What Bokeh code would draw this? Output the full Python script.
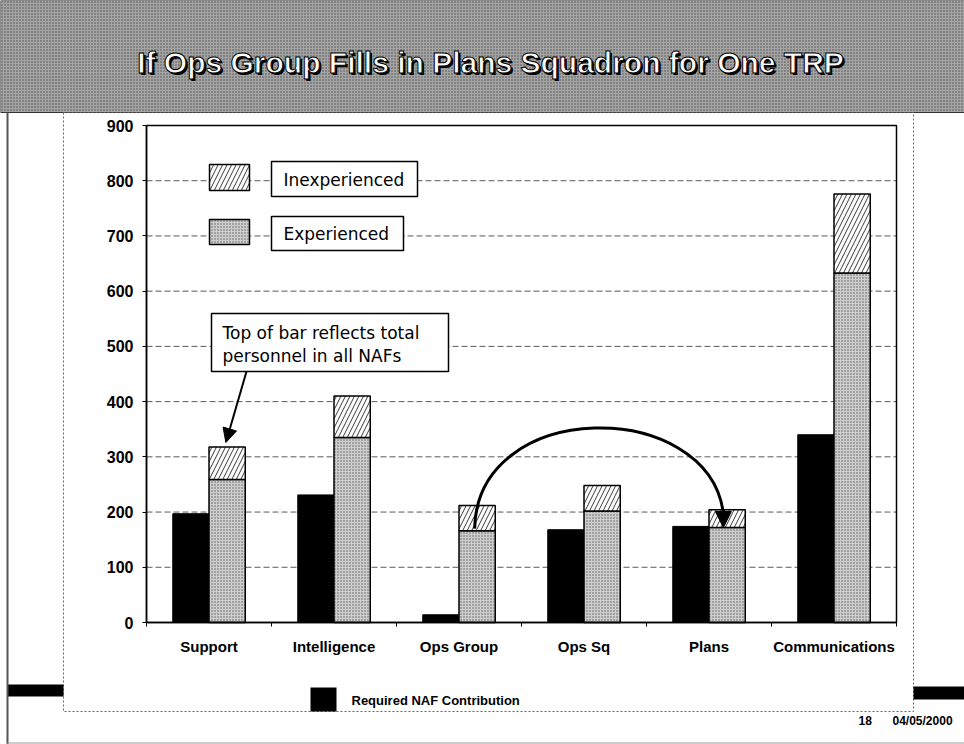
from bokeh.plotting import figure
from bokeh.models import (ColumnDataSource, BoxAnnotation, Label, Arrow, NormalHead,
                          FixedTicker, Range1d)
from bokeh.transform import dodge
from bokeh.embed import file_html
from bokeh.resources import INLINE

# ---------------- data ----------------
categories = ["Support", "Intelligence", "Ops Group", "Ops Sq", "Plans", "Communications"]
required_naf = [197, 231, 14, 168, 174, 340]
experienced = [259, 335, 166, 202, 172, 633]
inexperienced = [59, 75, 46, 46, 32, 143]
y_ticks = [0, 100, 200, 300, 400, 500, 600, 700, 800, 900]
y_max = 900

title_text = "If Ops Group Fills in Plans Squadron for One TRP"
legend_labels = ["Inexperienced", "Experienced"]
required_label = "Required NAF Contribution"
note_lines = ["Top of bar reflects total", "personnel in all NAFs"]
footer_page = "18"
footer_date = "04/05/2000"

# ---------------- layout (page pixels) ----------------
W, H = 964, 744
FL, FT, FR, FB = 146, 125, 896, 622      # chart area on the page
n = len(categories)
ux = (FR - FL) / n                       # px per category
uy = (FB - FT) / y_max                   # px per value unit
BAR_W = 0.29
SHIFT = BAR_W / 2
EXP_FILL, EXP_HATCH = "#cdcdcd", "#5f5f5f"
INEXP_HATCH = "#3a3a3a"

x_lo = -0.5 - FL / ux
x_hi = n - 0.5 + (W - FR) / ux
y_lo = -(H - FB) / uy
y_hi = FB / uy


def sx(rx):
    return rx


def sy(ry):
    return H - ry


def box(l, t, r, b, **kw):
    base = dict(fill_alpha=1, line_alpha=1, line_color=None, fill_color=None)
    base.update(kw)
    return BoxAnnotation(left=sx(l), right=sx(r), top=sy(t), bottom=sy(b),
                         left_units="screen", right_units="screen",
                         top_units="screen", bottom_units="screen", **base)


def label(rx, ry, text, **kw):
    base = dict(x_units="screen", y_units="screen", text_baseline="middle",
                text_font="Liberation Sans", text_color="black")
    base.update(kw)
    return Label(x=sx(rx), y=sy(ry), text=text, **base)


p = figure(x_range=Range1d(x_lo, x_hi), y_range=Range1d(y_lo, y_hi),
           width=W, height=H, output_backend="svg", toolbar_location=None, title=None,
           min_border=0, min_border_left=0, min_border_right=0,
           min_border_top=0, min_border_bottom=0)
p.background_fill_color = "white"
p.border_fill_color = "white"
p.outline_line_color = None
p.xgrid.visible = False
p.ygrid.visible = False

src = ColumnDataSource(dict(pos=list(range(n)), cat=categories, required=required_naf,
                            experienced=experienced, inexperienced=inexperienced))

# grid lines at the tick values
grid_vals = [t for t in y_ticks if 0 < t < y_max]
p.segment(x0=[-0.5] * len(grid_vals), x1=[n - 0.5] * len(grid_vals), y0=grid_vals,
          y1=grid_vals, line_color="#5a5a5a", line_dash="6 3", line_width=1,
          level="underlay")

# bars
p.vbar(x=dodge("pos", -SHIFT), top="required", width=BAR_W, source=src,
       fill_color="black", line_color="black", line_width=1)
p.vbar_stack(["experienced", "inexperienced"], x=dodge("pos", SHIFT),
             width=BAR_W, source=src,
             fill_color=[EXP_FILL, "white"], line_color="black", line_width=1.5,
             hatch_pattern=[".", "/"], hatch_color=[EXP_HATCH, INEXP_HATCH],
             hatch_scale=[3, 9], hatch_weight=[1, 1])

# chart frame (top / right)
p.add_layout(BoxAnnotation(left=-0.5, right=n - 0.5, bottom=0, top=y_max,
                           fill_alpha=0, line_color="black", line_alpha=1, line_width=1.5))

# axes placed at the chart origin
p.yaxis.fixed_location = -0.5
p.yaxis.bounds = (0, y_max)
p.yaxis.ticker = FixedTicker(ticks=y_ticks)
p.yaxis.minor_tick_line_color = None
p.yaxis.major_tick_in = 0
p.yaxis.major_tick_out = 4
p.yaxis.major_label_standoff = 9
p.yaxis.major_label_text_font = "Liberation Sans"
p.yaxis.major_label_text_font_style = "bold"
p.yaxis.major_label_text_font_size = "16px"
p.yaxis.major_label_text_color = "black"
p.yaxis.axis_line_width = 1.5

p.xaxis.fixed_location = 0
p.xaxis.bounds = (-0.5, n - 0.5)
p.xaxis.ticker = FixedTicker(ticks=list(range(n)))
p.xaxis.major_label_overrides = {i: c for i, c in enumerate(categories)}
p.xaxis.major_tick_line_color = None
p.xaxis.minor_tick_line_color = None
p.xaxis.major_label_standoff = 9
p.xaxis.major_label_text_font = "Liberation Sans"
p.xaxis.major_label_text_font_style = "bold"
p.xaxis.major_label_text_font_size = "15px"
p.xaxis.major_label_text_color = "black"
p.xaxis.axis_line_width = 1.5

# small tick marks at the category boundaries
bounds_x = [i - 0.5 for i in range(n + 1)]
p.segment(x0=bounds_x, x1=bounds_x, y0=[0] * len(bounds_x), y1=[-4 / uy] * len(bounds_x),
          line_color="black", line_width=1)

# curved arrow: Ops Group -> Plans
ops_i = categories.index("Ops Group")
plans_i = categories.index("Plans")
cx_start = ops_i + SHIFT - 0.02
cx_end = plans_i + SHIFT - 0.03
arc_top = 408
head_len = 26
p.bezier(x0=[cx_start], y0=[experienced[ops_i] + 4],
         x1=[cx_end], y1=[experienced[plans_i] + head_len],
         cx0=[cx_start + 0.02], cy0=[arc_top], cx1=[cx_end - 0.12], cy1=[arc_top],
         line_color="black", line_width=3)
p.add_layout(Arrow(end=NormalHead(size=16, fill_color="black", line_color="black"),
                   x_start=cx_end, y_start=experienced[plans_i] + head_len + 2,
                   x_end=cx_end, y_end=experienced[plans_i],
                   line_color="black", line_width=2))

# ---------------- decorations ----------------
# title band
p.add_layout(box(0, 0, W, 112, fill_color="#a4a4a4",
                 hatch_pattern=".", hatch_color="#3f3f3f", hatch_scale=3, hatch_alpha=0.85,
                 line_color="#333333", line_width=1))
p.add_layout(label(492, 64, title_text, text_align="center", text_baseline="alphabetic",
                   text_font_style="bold", text_font_size="30px", text_color="black"))
p.add_layout(label(490, 62, title_text, text_align="center", text_baseline="alphabetic",
                   text_font_style="bold", text_font_size="30px", text_color="white",
                   text_outline_color="black"))

# inner frame, side bars, page edge
p.add_layout(box(63, 112, 913, 711, line_color="#666666", line_dash="2 2", line_width=1))
p.add_layout(box(7, 684, 63, 696, fill_color="black"))
p.add_layout(box(913, 686, W, 699, fill_color="black"))
p.add_layout(box(6, 112, 8, H, fill_color="#555555"))
p.add_layout(box(6, 742, W, 743, fill_color="#9a9a9a"))

# legend inside the chart
p.add_layout(box(209, 164, 249, 190, fill_color="white", hatch_pattern="/",
                 hatch_color=INEXP_HATCH, hatch_scale=9, line_color="black", line_width=1.5))
p.add_layout(box(209, 219, 249, 244, fill_color=EXP_FILL, hatch_pattern=".",
                 hatch_color=EXP_HATCH, hatch_scale=3, line_color="black", line_width=1.5))
p.add_layout(box(271, 161, 417, 196, fill_color="white", line_color="black", line_width=1.5))
p.add_layout(box(271, 216, 403, 250, fill_color="white", line_color="black", line_width=1.5))
p.add_layout(label(283, 179, legend_labels[0], text_font="DejaVu Sans", text_font_size="17px"))
p.add_layout(label(283, 233, legend_labels[1], text_font="DejaVu Sans", text_font_size="17px"))

# note box and arrow to Support bar
p.add_layout(box(211, 313, 448, 371, fill_color="white", line_color="black", line_width=1.5))
p.add_layout(label(222, 332, note_lines[0], text_font="DejaVu Sans", text_font_size="17px"))
p.add_layout(label(222, 355, note_lines[1], text_font="DejaVu Sans", text_font_size="17px"))
sup_i = categories.index("Support")
p.add_layout(Arrow(end=NormalHead(size=14, fill_color="black", line_color="black"),
                   x_start=-0.5 + (246 - FL) / ux, y_start=(FB - 371) / uy,
                   x_end=sup_i + SHIFT - 0.01,
                   y_end=experienced[sup_i] + inexperienced[sup_i] + 8,
                   line_color="black", line_width=2))

# bottom legend and footer
p.add_layout(box(310, 687, 336, 711, fill_color="black"))
p.add_layout(label(351, 700, required_label, text_font_size="13px", text_font_style="bold"))
p.add_layout(label(858, 720, footer_page, text_font_size="12px", text_font_style="bold"))
p.add_layout(label(892, 720, footer_date, text_font_size="12px", text_font_style="bold"))

open("out.html", "w").write(file_html(p, INLINE))
